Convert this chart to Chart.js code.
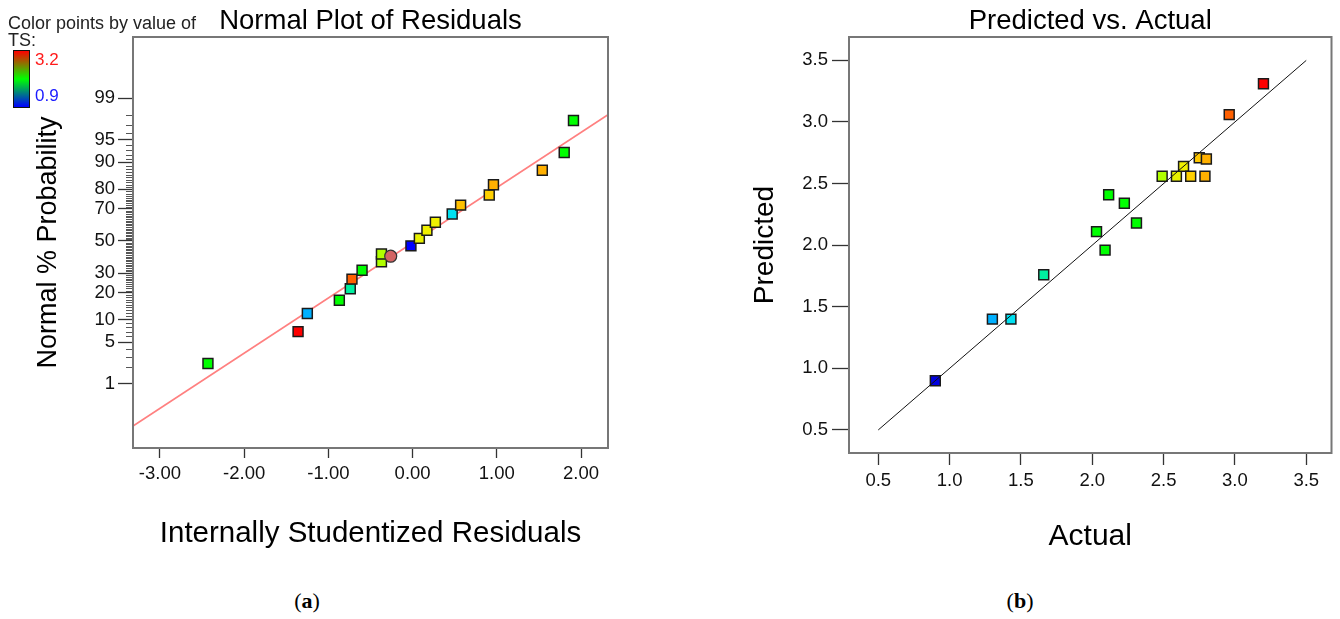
<!DOCTYPE html>
<html>
<head>
<meta charset="utf-8">
<script src="https://cdn.jsdelivr.net/npm/chart.js@4.4.1/dist/chart.umd.min.js"></script>
<style>
  body {
    margin: 0;
    background: #fff;
    width: 1340px;
    height: 619px;
    position: relative;
    overflow: hidden;
    font-family: "Liberation Sans", Arial, sans-serif;
  }
  .chart { position: absolute; top: 0; height: 560px; }
  #wrapA { left: 0; width: 620px; }
  #wrapB { left: 660px; width: 680px; }
  .legend-title { position: absolute; left: 8px; top: 15px; font-size: 18px; line-height: 17px; color: #222; }
  .colorbar {
    position: absolute; left: 13px; top: 50px; width: 15px; height: 56px;
    border: 1px solid #111;
    background: linear-gradient(to bottom, #ff0000, #00ff00, #0000ff);
  }
  .cb-max { position: absolute; left: 35px; top: 51px; font-size: 17px; line-height: 18px; color: #ff1a1a; }
  .cb-min { position: absolute; left: 35px; top: 87px; font-size: 17px; line-height: 18px; color: #1a1aff; }
  .caption {
    position: absolute; top: 589px; width: 60px; text-align: center;
    font-family: "Liberation Serif", "Times New Roman", serif; font-size: 22px; line-height: 24px;
  }
</style>
</head>
<body>
<div class="chart" id="wrapA"><canvas id="chartA"></canvas></div>
<div class="chart" id="wrapB"><canvas id="chartB"></canvas></div>

<div class="legend-title">Color points by value of<br>TS:</div>
<div class="colorbar"></div>
<div class="cb-max">3.2</div>
<div class="cb-min">0.9</div>

<div class="caption" style="left:277px">(<b>a</b>)</div>
<div class="caption" style="left:990px">(<b>b</b>)</div>

<script>
// (a) normal plot of residuals
const residuals = [-2.43, -1.36, -1.25, -0.87, -0.74, -0.72, -0.60, -0.37, -0.37, -0.02,
  0.08, 0.17, 0.27, 0.47, 0.57, 0.91, 0.96, 1.54, 1.80, 1.91]
const normalPct = [2.3, 7.0, 11.9, 16.7, 21.8, 26.7, 31.7, 36.8, 41.6, 46.8,
  51.7, 56.9, 62.0, 67.0, 72.0, 77.3, 82.0, 87.5, 92.5, 97.5]
const residualColors = ["#00ff00", "#ff0000", "#00b0ff", "#00ff00", "#00f0a0", "#ff6000", "#00ff00", "#b0ff00", "#b0ff00", "#0000ff",
  "#e8f000", "#f0f000", "#f0f000", "#00e0f0", "#ffc000", "#ffd000", "#ffb000", "#ffb000", "#00ff00", "#00ff00"]
const highlightResidual = [-0.26]
const highlightPct = [40.2]
const fitResidual = [-3.32, 2.32]
const fitPct = [0.13, 98.0]
const residualTicks = [-3, -2, -1, 0, 1, 2]
const pctTicks = [1, 5, 10, 20, 30, 50, 70, 80, 90, 95, 99]

// (b) predicted vs actual
const actual = [0.90, 1.30, 1.43, 1.66, 2.03, 2.09, 2.115, 2.225, 2.31, 2.49,
  2.59, 2.64, 2.69, 2.75, 2.79, 2.80, 2.96, 3.20]
const predicted = [0.90, 1.40, 1.40, 1.76, 2.11, 1.96, 2.41, 2.34, 2.18, 2.56,
  2.56, 2.64, 2.56, 2.71, 2.56, 2.70, 3.06, 3.31]
const actualColors = ["#0000e0", "#00b0ff", "#00e0f0", "#00f0a0", "#00ff00", "#00ff00", "#00ff00", "#00ff00", "#00ff00", "#b0ff00",
  "#e8f000", "#f0f000", "#ffd000", "#ffc800", "#ffb000", "#ffb000", "#ff6000", "#ff0000"]
const diagonal = [0.5, 3.5]
const actualTicks = [0.5, 1.0, 1.5, 2.0, 2.5, 3.0, 3.5]

const FONT = "'Liberation Sans', Arial, sans-serif"
Chart.defaults.font.family = FONT
Chart.defaults.color = "#000"

// inverse normal cdf (Acklam), used to map % probability onto the axis
const probit = (p) => {
  const a = [-39.69683028665376, 220.9460984245205, -275.9285104469687, 138.3577518672690, -30.66479806614716, 2.506628277459239]
  const b = [-54.47609879822406, 161.5858368580409, -155.6989798598866, 66.80131188771972, -13.28068155288572]
  const c = [-0.007784894002430293, -0.3223964580411365, -2.400758277161838, -2.549732539343734, 4.374664141464968, 2.938163982698783]
  const d = [0.007784695709041462, 0.3224671290700398, 2.445134137142996, 3.754408661907416]
  const plow = 0.02425
  if (p < plow || p > 1 - plow) {
    const q = Math.sqrt(-2 * Math.log(p < plow ? p : 1 - p))
    const v = (((((c[0] * q + c[1]) * q + c[2]) * q + c[3]) * q + c[4]) * q + c[5]) /
      ((((d[0] * q + d[1]) * q + d[2]) * q + d[3]) * q + 1)
    return p < plow ? v : -v
  }
  const q = p - 0.5
  const r = q * q
  return (((((a[0] * r + a[1]) * r + a[2]) * r + a[3]) * r + a[4]) * r + a[5]) * q /
    (((((b[0] * r + b[1]) * r + b[2]) * r + b[3]) * r + b[4]) * r + 1)
}

const minorPct = Array.from({ length: 99 }, (_, i) => i + 1).filter((p) => !pctTicks.includes(p))

// box around the plot, title above it, minor ticks on the probability axis
const framePlugin = {
  id: "frame",
  afterDraw(chart, args, opts) {
    const { ctx, chartArea: a } = chart
    ctx.save()
    if (opts.minor) {
      const ys = chart.scales.y
      ctx.strokeStyle = "#555"
      ctx.lineWidth = 1
      ctx.beginPath()
      opts.minor.forEach((p) => {
        const py = Math.round(ys.getPixelForValue(probit(p / 100))) + 0.5
        ctx.moveTo(a.left - 7, py)
        ctx.lineTo(a.left, py)
      })
      ctx.stroke()
    }
    ctx.strokeStyle = "#777"
    ctx.lineWidth = 2
    ctx.strokeRect(a.left, a.top, a.right - a.left, a.bottom - a.top)
    ctx.fillStyle = "#000"
    ctx.font = "27.5px " + FONT
    ctx.textAlign = "center"
    ctx.textBaseline = "middle"
    ctx.fillText(opts.title, (a.left + a.right) / 2, 21)
    ctx.restore()
  },
}

const makeAxis = ({ min, max, ticks, label, fmt, fit, tickLength, padding, title }) => ({
  type: "linear",
  min: min,
  max: max,
  afterBuildTicks: (s) => {
    s.ticks = ticks.map((v) => ({ value: v }))
  },
  afterFit: fit,
  grid: { drawOnChartArea: false, tickLength: tickLength, tickColor: "#333", tickWidth: 1.3 },
  border: { display: false },
  ticks: { autoSkip: false, maxRotation: 0, padding: padding, color: "#111", font: { size: 18.5 }, callback: fmt },
  title: { display: true, text: label, color: "#000", font: { size: title.size }, padding: title.padding },
})

const createNormalPlot = (ctx) => {
  const data = {
    datasets: [
      {
        data: highlightResidual.map((x, i) => ({ x: x, y: probit(highlightPct[i] / 100) })),
        pointStyle: "circle",
        pointRadius: 6,
        backgroundColor: "#d36464",
        borderColor: "#333",
        borderWidth: 1.2,
      },
      {
        data: residuals.map((x, i) => ({ x: x, y: probit(normalPct[i] / 100) })),
        pointStyle: "rect",
        pointRadius: 7,
        backgroundColor: residualColors,
        borderColor: "#1a1a1a",
        borderWidth: 1.5,
      },
      {
        data: fitResidual.map((x, i) => ({ x: x, y: probit(fitPct[i] / 100) })),
        showLine: true,
        borderColor: "#ff8080",
        borderWidth: 1.8,
        pointRadius: 0,
      },
    ],
  }
  const options = {
    responsive: true,
    maintainAspectRatio: false,
    animation: false,
    events: [],
    layout: { padding: { top: 37, right: 12, left: 0, bottom: 0 } },
    plugins: {
      legend: { display: false },
      tooltip: { enabled: false },
      frame: { title: "Normal Plot of Residuals", minor: minorPct },
    },
    scales: {
      x: makeAxis({
        min: -3.32, max: 2.32, ticks: residualTicks,
        label: "Internally Studentized Residuals",
        fmt: (v) => v.toFixed(2),
        fit: (s) => { s.height = 112 },
        tickLength: 10, padding: 5,
        title: { size: 29.5, padding: { bottom: 8 } },
      }),
      y: makeAxis({
        min: -3.37, max: 3.32, ticks: pctTicks.map((p) => probit(p / 100)),
        label: "Normal % Probability",
        fmt: (v, i) => pctTicks[i],
        fit: (s) => { s.width = 133 },
        tickLength: 15, padding: 3,
        title: { size: 27, padding: { top: 32 } },
      }),
    },
  }
  return new Chart(ctx, { type: "scatter", data: data, options: options, plugins: [framePlugin] })
}

const createPredictedPlot = (ctx) => {
  const data = {
    datasets: [
      {
        data: diagonal.map((v) => ({ x: v, y: v })),
        showLine: true,
        borderColor: "#111",
        borderWidth: 1,
        pointRadius: 0,
      },
      {
        data: actual.map((x, i) => ({ x: x, y: predicted[i] })),
        pointStyle: "rect",
        pointRadius: 7,
        backgroundColor: actualColors,
        borderColor: "#1a1a1a",
        borderWidth: 1.5,
      },
    ],
  }
  const options = {
    responsive: true,
    maintainAspectRatio: false,
    animation: false,
    events: [],
    layout: { padding: { top: 37, right: 8, left: 0, bottom: 0 } },
    plugins: {
      legend: { display: false },
      tooltip: { enabled: false },
      frame: { title: "Predicted vs. Actual" },
    },
    scales: {
      x: makeAxis({
        min: 0.295, max: 3.677, ticks: actualTicks,
        label: "Actual",
        fmt: (v) => v.toFixed(1),
        fit: (s) => { s.height = 107 },
        tickLength: 12, padding: 5,
        title: { size: 30, padding: { bottom: 5 } },
      }),
      y: makeAxis({
        min: 0.313, max: 3.69, ticks: actualTicks,
        label: "Predicted",
        fmt: (v) => v.toFixed(1),
        fit: (s) => { s.width = 189 },
        tickLength: 17, padding: 4,
        title: { size: 28, padding: { top: 88 } },
      }),
    },
  }
  return new Chart(ctx, { type: "scatter", data: data, options: options, plugins: [framePlugin] })
}

createNormalPlot(document.getElementById("chartA").getContext("2d"))
createPredictedPlot(document.getElementById("chartB").getContext("2d"))
</script>
</body>
</html>
